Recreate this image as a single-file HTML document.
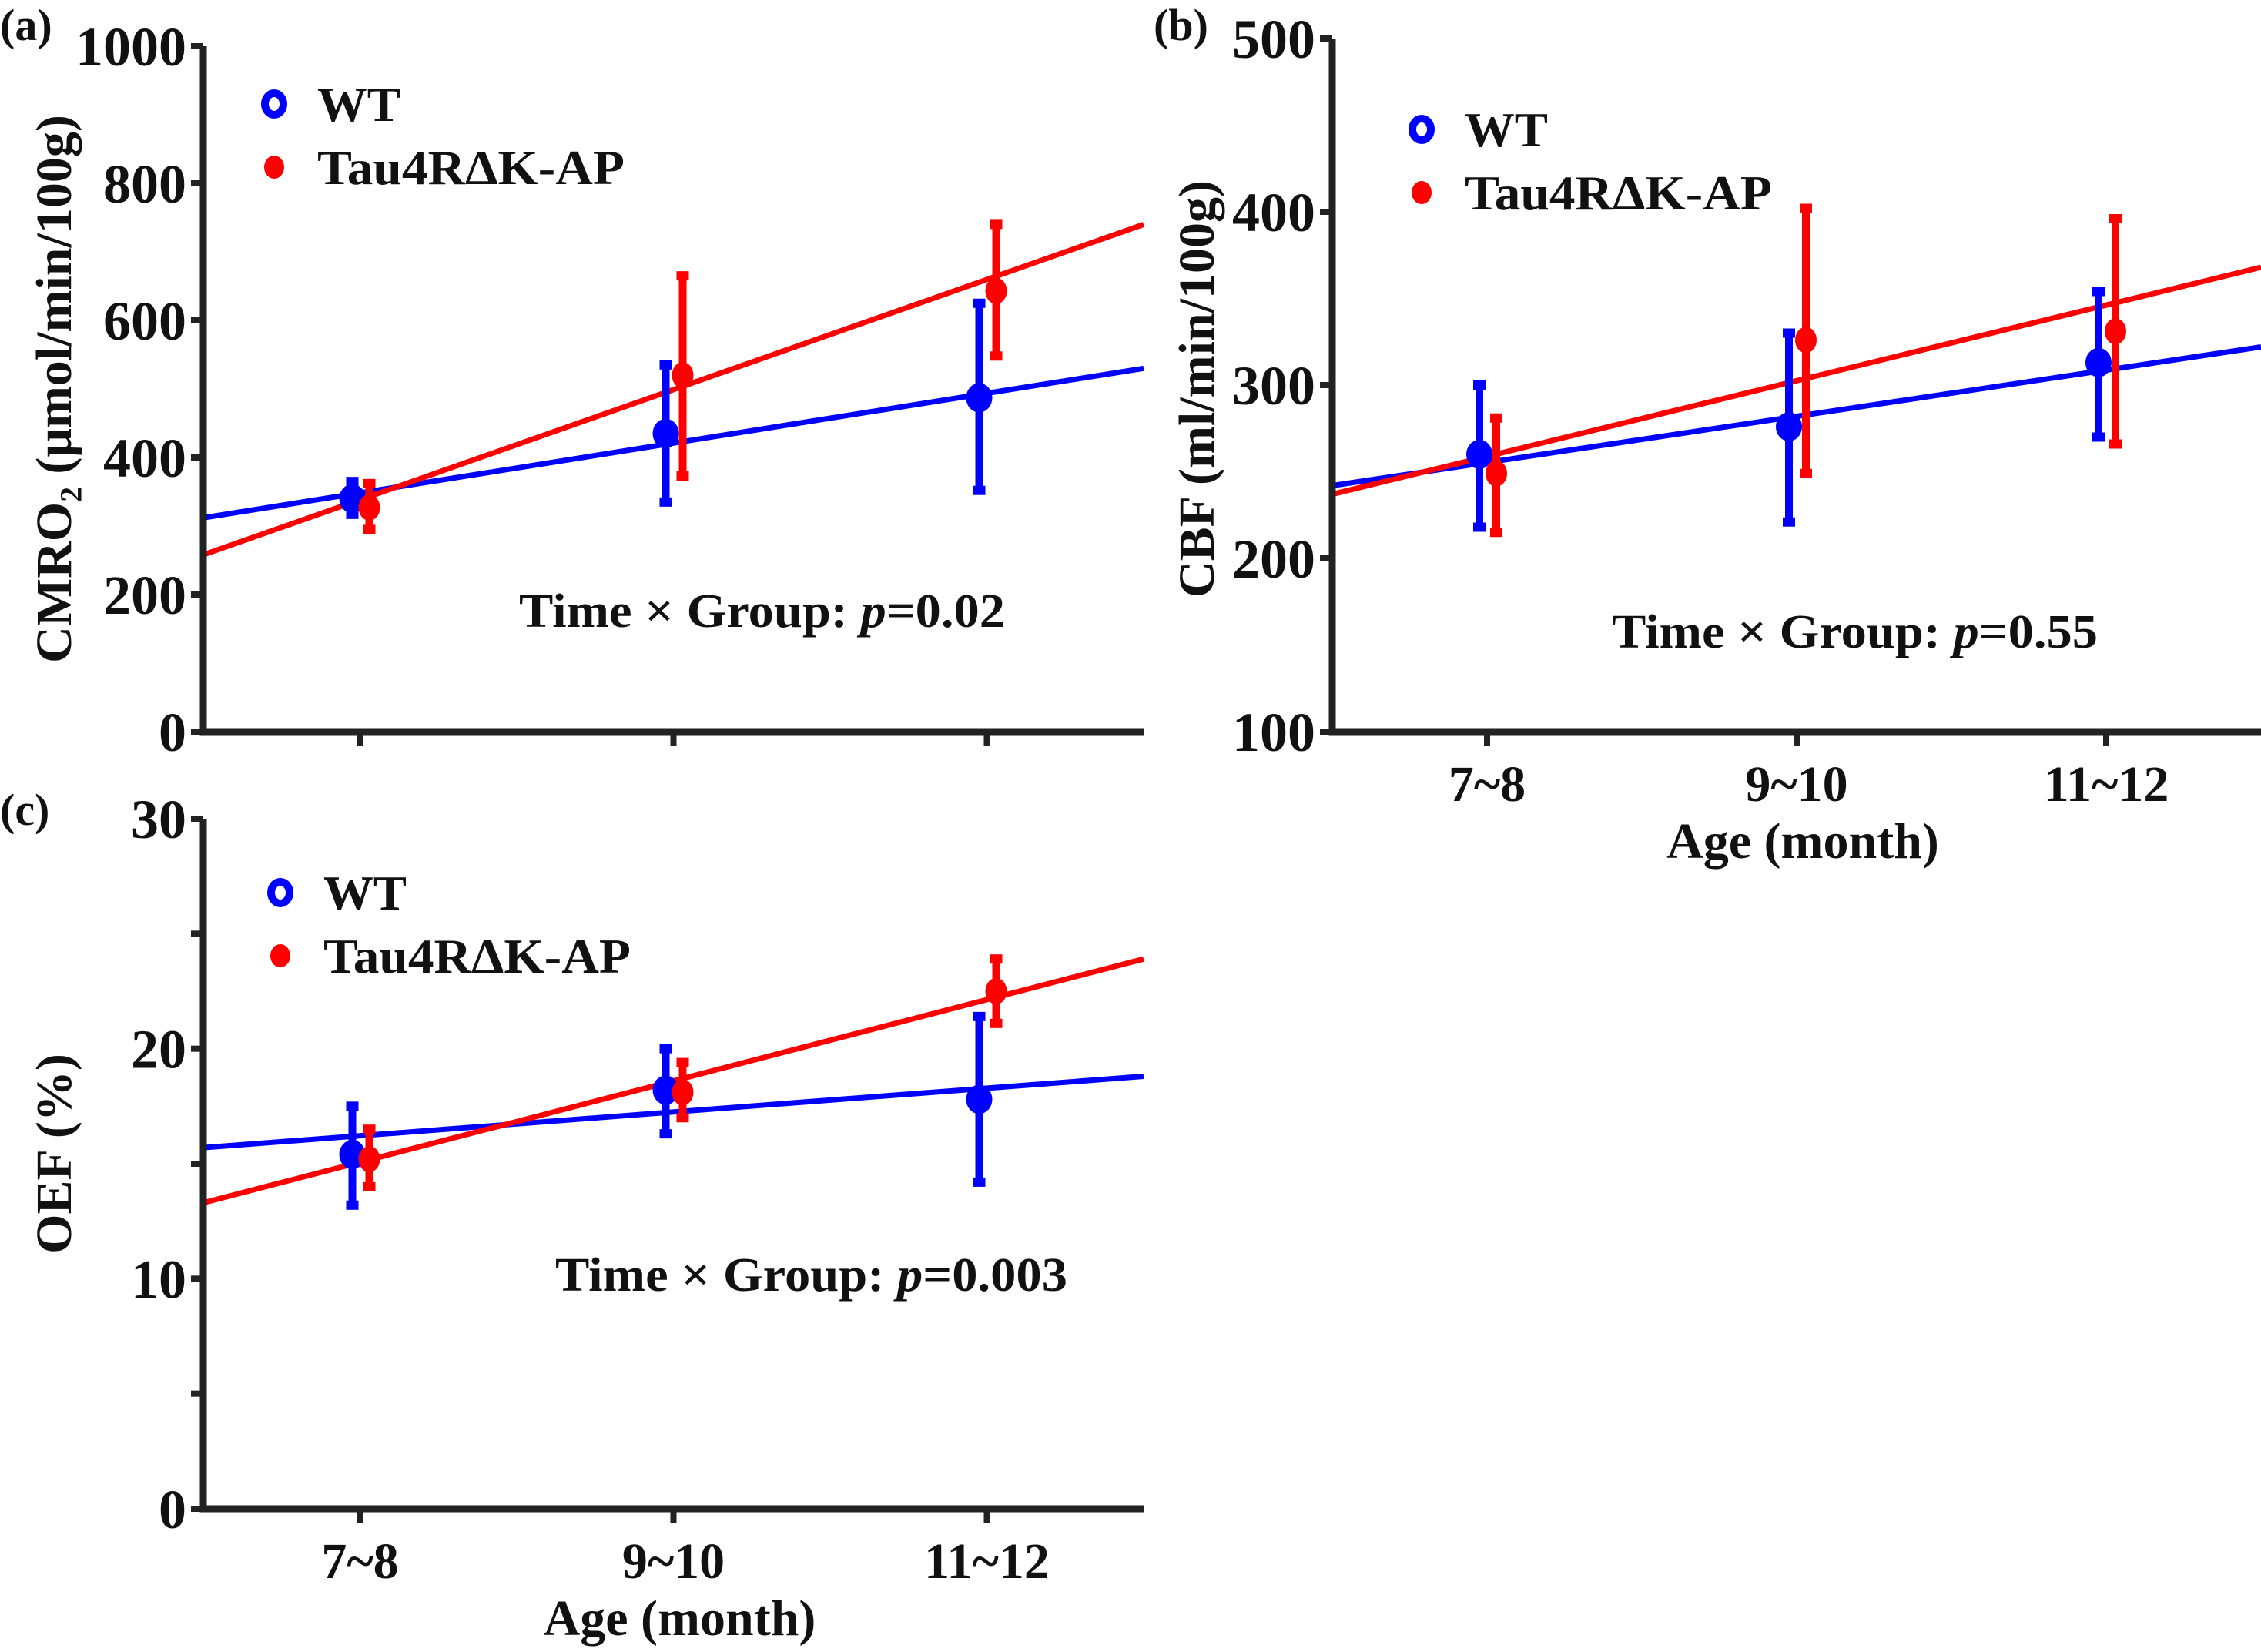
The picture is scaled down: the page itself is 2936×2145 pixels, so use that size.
<!DOCTYPE html>
<html><head><meta charset="utf-8"><style>
html,body{margin:0;padding:0;background:#fff;}
svg{display:block;font-family:"Liberation Serif",serif;font-weight:bold;}
</style></head><body>
<svg id="fig" width="2936" height="2145" viewBox="0 0 2936 2145" xmlns="http://www.w3.org/2000/svg"></svg>
<script>
const categories = ["7~8","9~10","11~12"];
// panel a: CMRO2
const aWT = [340,435,487], aWTlo=[317,335,352], aWThi=[365,535,625];
const aTau = [327,520,643], aTaulo=[295,373,548], aTauhi=[362,665,740];
const aWTfit=[312,530], aTaufit=[258,740];
const aTicks=[0,200,400,600,800,1000];
// panel b: CBF
const bWT=[260,276,313], bWTlo=[218,221,270], bWThi=[300,330,354];
const bTau=[249,326,331], bTaulo=[215,249,266], bTauhi=[281,402,396];
const bWTfit=[242,322], bTaufit=[237,368];
const bTicks=[100,200,300,400,500];
// panel c: OEF
const cWT=[15.4,18.2,17.8], cWTlo=[13.2,16.3,14.2], cWThi=[17.5,20.0,21.4];
const cTau=[15.2,18.1,22.5], cTaulo=[14.0,17.0,21.1], cTauhi=[16.5,19.4,23.9];
const cWTfit=[15.7,18.8], cTaufit=[13.3,23.9];
const cTicks=[0,10,20,30];
const cMinor=[5,15,25];

const NS="http://www.w3.org/2000/svg";
const svg=document.getElementById('fig');
function mk(tag,attrs,parent,text){const e=document.createElementNS(NS,tag);for(const k in attrs)e.setAttribute(k,attrs[k]);if(text!==undefined)e.textContent=text;(parent||svg).appendChild(e);return e;}

function panel(o){
  const g=mk('g',{});
  
  
  const xs=v=>o.x0+(v-0.5)/3*(o.x1-o.x0);
  const ys=v=>o.yb-(v-o.ymin)/(o.ymax-o.ymin)*(o.yb-o.yt);
  const f1=mk('line',{x1:xs(0.5),y1:ys(o.wtFit[0]),x2:xs(3.5),y2:ys(o.wtFit[1]),stroke:'#0000ff','stroke-width':7},g);
  
  
  const f2=mk('line',{x1:xs(0.5),y1:ys(o.tauFit[0]),x2:xs(3.5),y2:ys(o.tauFit[1]),stroke:'#ff0000','stroke-width':7},g);
  
  
  function series(vals,lo,hi,col,off,nm,shape){
    vals.forEach((v,i)=>{
      const x=xs(i+1)+off;
      const e=mk('line',{x1:x,y1:ys(lo[i]),x2:x,y2:ys(hi[i]),stroke:col,'stroke-width':10},g);
      
      
      [lo[i],hi[i]].forEach(c=>{const cp=mk('rect',{x:x-8,y:ys(c)-6,width:16,height:12,fill:col},g);
        
        });
      let m;
      if(shape==='circle') m=mk('ellipse',{cx:x,cy:ys(v),rx:17,ry:19,fill:col},g);
      else m=mk('ellipse',{cx:x,cy:ys(v),rx:14,ry:17,fill:col},g);
      
      
    });
  }
  series(o.wt,o.wtlo,o.wthi,'#0000ff',-10,'wt','circle');
  series(o.tau,o.taulo,o.tauhi,'#ff0000',12,'tau','oct');
  const ax=mk('path',{d:`M${o.x0} ${o.yt} L${o.x0} ${o.yb} L${o.x1} ${o.yb}`,stroke:'#222',fill:'none','stroke-width':9},g);
  
  
  o.ticks.forEach(t=>{
    const tk=mk('line',{x1:o.x0-16,y1:ys(t),x2:o.x0,y2:ys(t),stroke:'#222','stroke-width':8},g);
    
    
    const tl=mk('text',{x:o.x0-22,y:ys(t)+25,'text-anchor':'end','font-size':72,fill:'#111'},g,String(t));
    
    
  });
  (o.minor||[]).forEach(t=>{
    const tk=mk('line',{x1:o.x0-16,y1:ys(t),x2:o.x0,y2:ys(t),stroke:'#222','stroke-width':8},g);
    
    
  });
  categories.forEach((c,i)=>{
    const x=xs(i+1);
    const tk=mk('line',{x1:x,y1:o.yb,x2:x,y2:o.yb+18,stroke:'#222','stroke-width':8},g);
    
    
    if(o.xlabels){
      const tl=mk('text',{x:x,y:o.yb+90,'text-anchor':'middle','font-size':66,fill:'#111'},g,c);
      
      
    }
  });
  if(o.xlabels){
    const xl=mk('text',{x:(o.x0+o.x1)/2+8,y:o.yb+164,'text-anchor':'middle','font-size':66,fill:'#111'},g,'Age (month)');
    
    
  }
  const yl=mk('text',{x:0,y:0,transform:`translate(${o.ylx},${o.ylcy}) rotate(-90)`,'text-anchor':'middle','font-size':66,fill:'#111'},g,o.ylabel);
  
  
  const pl=mk('text',{x:o.plx,y:o.ply,'font-size':58,fill:'#111'},g,o.plabel);
  
  
  const lx=o.x0+o.legDx, ly=o.yt+o.legDy;
  const l1=mk('ellipse',{cx:lx,cy:ly,rx:12,ry:14,fill:'none',stroke:'#0000ff','stroke-width':10},g);
  
  
  const l1t=mk('text',{x:lx+56,y:ly+22,'font-size':64,fill:'#111',textLength:108,lengthAdjust:'spacingAndGlyphs'},g,'WT');
  
  
  const l2=mk('ellipse',{cx:lx,cy:ly+82,rx:13,ry:15,fill:'#ff0000'},g);
  
  
  const l2t=mk('text',{x:lx+56,y:ly+104,'font-size':64,fill:'#111',textLength:399,lengthAdjust:'spacingAndGlyphs'},g,'Tau4RΔK-AP');
  
  
  const an=mk('text',{x:o.anx,y:o.any,'font-size':62,'font-weight':'bold',fill:'#111',textLength:o.anw,lengthAdjust:'spacingAndGlyphs'},g);
  
  
  mk('tspan',{},an,'Time × Group: ');
  mk('tspan',{'font-style':'italic'},an,'p');
  mk('tspan',{},an,'='+o.pval);
}

panel({name:'panel-a-cmro2',x0:264,x1:1485,yt:60,yb:950,ymin:0,ymax:1000,ticks:aTicks,
  wt:aWT,wtlo:aWTlo,wthi:aWThi,tau:aTau,taulo:aTaulo,tauhi:aTauhi,wtFit:aWTfit,tauFit:aTaufit,
  xlabels:false,ylabel:'CMRO₂ (μmol/min/100g)',ylx:92,ylcy:505,plabel:'(a)',plx:0,ply:52,
  legDx:92,legDy:75,anx:674,any:814,anw:631,pval:'0.02'});
panel({name:'panel-b-cbf',x0:1730,x1:2936,yt:50,yb:950,ymin:100,ymax:500,ticks:bTicks,
  wt:bWT,wtlo:bWTlo,wthi:bWThi,tau:bTau,taulo:bTaulo,tauhi:bTauhi,wtFit:bWTfit,tauFit:bTaufit,
  xlabels:true,ylabel:'CBF (ml/min/100g)',ylx:1576,ylcy:505,plabel:'(b)',plx:1498,ply:52,
  legDx:116,legDy:118,anx:2093,any:841,anw:631,pval:'0.55'});
panel({name:'panel-c-oef',x0:264,x1:1485,yt:1063,yb:1959,ymin:0,ymax:30,ticks:cTicks,minor:cMinor,
  wt:cWT,wtlo:cWTlo,wthi:cWThi,tau:cTau,taulo:cTaulo,tauhi:cTauhi,wtFit:cWTfit,tauFit:cTaufit,
  xlabels:true,ylabel:'OEF (%)',ylx:92,ylcy:1498,plabel:'(c)',plx:0,ply:1071,
  legDx:100,legDy:96,anx:721,any:1676,anw:665,pval:'0.003'});
</script>
</body></html>
